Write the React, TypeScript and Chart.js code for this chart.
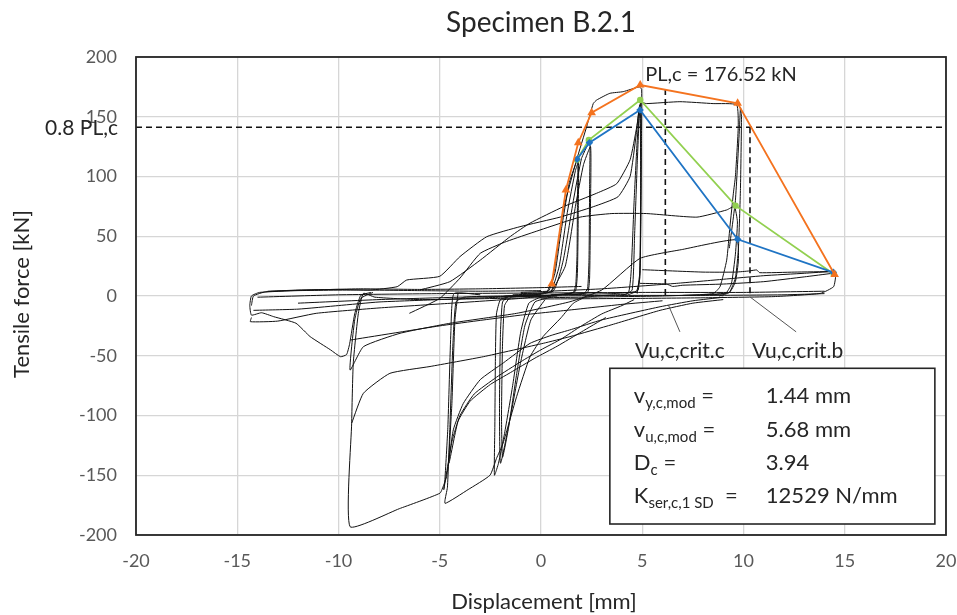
import React, { useEffect, useRef } from 'react';
import { Chart, registerables } from 'chart.js';

Chart.register(...registerables);

type P = [number, number];

// ---- axes ----
const xRange: P = [-20, 20];
const yRange: P = [-200, 200];
const xStep = 5;
const yStep = 50;

// ---- envelope curves ----
const envelopeOrange: P[] = [[0.53, 10], [1.23, 88.7], [1.84, 128.3], [2.5, 153.4], [4.9, 176.52], [9.71, 161.3], [14.5, 18]];
const envelopeGreen: P[] = [[1.78, 114], [2.36, 130.5], [4.9, 164], [9.61, 75.6], [14.45, 18.5]];
const envelopeBlue: P[] = [[1.78, 114.4], [2.39, 128.3], [4.89, 155.6], [9.71, 47.4], [14.43, 19.8]];

// ---- reference lines ----
const limitLine: P[] = [[-20, 141.2], [20, 141.2]];
const critCLine: P[] = [[6.14, 173.2], [6.14, -1]];
const critBLine: P[] = [[10.32, 141.2], [10.32, -1]];
const leaderC: P[] = [[6.29, -7.5], [6.86, -30]];
const leaderB: P[] = [[10.3, -0.5], [12.6, -30]];

// ---- hysteresis traces ----
const hysA: P[] = [[0.3, 3], [0.6, 16], [1.1, 72], [1.76, 114], [2.26, 142], [2.58, 161], [2.75, 164], [3.4, 169.6], [4.06, 171], [4.85, 175], [4.97, 173], [4.96, 130], [4.93, 60], [4.88, 15], [4.7, 4], [3.5, 2], [1, 1], [-2, 0], [-3.8, -1], [-4.2, -5], [-4.35, -40], [-4.5, -110], [-4.62, -160], [-4.74, -173.5], [-3.6, -162], [-2.52, -150], [-2.2, -136], [-1.87, -123], [-1.2, -84], [-0.54, -50.8], [0.1, -34], [1.0, -18], [1.6, -6], [2.2, -1], [3.5, 1]];
const hysB: P[] = [[-14.3, -8], [-14.2, 0], [-13.6, 3.5], [-12, 5], [-10, 5.5], [-8.44, 5], [-7.1, 7.8], [-6.63, 13.4], [-5, 16.5], [-4, 33], [-2.68, 49.6], [-1.04, 58], [0.94, 66], [2.58, 74.7], [3.8, 83], [4.4, 100], [4.7, 135], [4.85, 158], [4.95, 162], [5.2, 161], [6.86, 162.6], [8.5, 161], [9.66, 160], [9.74, 141.7], [9.6, 100], [9.5, 86], [9.33, 58], [9.17, 30], [8.84, 7.8], [8.5, 2], [6, 0], [2, -1], [-2, -2], [-6, -3], [-8.2, -1], [-8.77, 2.2], [-9.02, -14.5], [-9.27, -56], [-9.35, -106.5], [-9.43, -193], [-7, -178], [-4.99, -165], [-4.8, -158], [-4.66, -151], [-4.33, -112], [-3.84, -90], [-3.0, -70], [-1.86, -56], [-0.54, -39.6], [0.5, -33], [1.5, -28], [3, -20], [5.88, -9], [7.5, -4], [9, -1]];
const hysC: P[] = [[-6.5, -14.5], [-5, -2], [-4, 15], [-3, 35.7], [-1.8, 45], [-0.54, 52.4], [1.93, 66], [3.5, 69], [5.2, 69], [7.7, 66], [9.17, 72], [9.55, 75], [9.7, 62], [9.6, 35], [9.4, 10], [9.1, 2], [7, 0.5]];
const hysC2: P[] = [[-6, 5], [-4.5, 12], [-3, 30], [-1.5, 50], [-0.54, 61], [1.1, 74.7], [2.75, 86], [3.74, 94], [4.4, 114], [4.73, 141.7], [4.84, 155], [4.9, 160]];
const hysD: P[] = [[-8.3, 3], [-8.9, -2], [-9.2, -20], [-9.43, -62], [-8.77, -42.4], [-6.96, -31.2], [-4.49, -22.8], [-1.2, -14.5], [1.43, -4.8], [3, 5], [4.89, 31.5], [7, 39], [9.66, 47], [9.75, 30], [9.6, 12], [9.3, 3], [8, 1]];
const hysE: P[] = [[-9.35, -106.5], [-8.77, -81.4], [-7.46, -64.7], [-5.48, -59], [-2.85, -50.8], [0.11, -39.6], [1.43, -34], [3.5, -24], [5.88, -12], [7.5, -6], [9, -3]];
const hysF: P[] = [[-9.4, -36.8], [-5, -25], [-1, -16], [1.43, -11.7], [4, -7], [6, -4]];
const hysG: P[] = [[-8.4, 3], [-8.9, 0.5], [-9.2, -15], [-9.45, -40], [-9.6, -49], [-9.9, -50.8], [-10.4, -45], [-11.4, -34], [-12.1, -22.8], [-13.2, -17.3], [-13.8, -14], [-14.3, -16], [-14.38, -8], [-14.3, 0], [-13.9, 3], [-12, 4.5], [-9, 5], [-6, 4.5], [-3, 4], [0, 4.5]];
const hysH: P[] = [[-14.3, -18], [-14.35, -21.5], [-13, -21], [-11.1, -14.5], [-8, -10], [-4.49, -6.1], [-1, -2], [1.43, 2.3], [3, 3]];
const hysI: P[] = [[-14.2, -12], [-12, -11], [-10, -8], [-8, -5], [-5, -3], [-2, -1], [0, 0]];
const hysJ: P[] = [[-3, 1], [-4.3, 2], [-4.45, -30], [-4.6, -110], [-4.75, -155], [-4.8, -162], [-4.4, -122], [-4.0, -100], [-3.3, -82], [-2.2, -68], [-1, -55], [0, -45], [1, -36], [2, -25], [3, -15], [4, -8], [4.6, -3]];
const hysK: P[] = [[-4.1, 2], [-4.25, -20], [-4.4, -90], [-4.55, -140], [-4.1, -105], [-3.5, -88], [-2.5, -74], [-1.5, -64], [-0.3, -52], [0.8, -42], [2, -30], [3.2, -18]];
const hysL: P[] = [[3.5, 1], [4.3, 2], [4.45, 20], [4.6, 80], [4.75, 130], [4.88, 158], [4.92, 162], [4.94, 110], [4.9, 30], [4.8, 5], [4.3, 1]];
const hysM: P[] = [[4.0, 0], [4.5, 5], [4.62, 50], [4.75, 110], [4.85, 150], [4.9, 157], [4.92, 90], [4.88, 20], [4.75, 2]];
const hysN: P[] = [[9.3, 40], [9.6, 80], [9.8, 140], [9.85, 158], [9.9, 150], [9.85, 90], [9.75, 40], [9.6, 15], [9.3, 3], [8.8, 0]];
const cycP1: P[] = [[-1.4, 1], [0, 2], [0.4, 5], [0.7, 20], [1.0, 55], [1.4, 95], [1.7, 110], [1.82, 115], [1.8, 80], [1.78, 35], [1.72, 10], [1.6, 3], [1.0, 1], [0, 0]];
const cycP2: P[] = [[-1.8, 0], [0, 1.5], [0.5, 4], [0.9, 25], [1.3, 70], [1.7, 105], [1.85, 112], [1.84, 70], [1.8, 20], [1.7, 4], [1.2, 1]];
const cycP3: P[] = [[-1.0, 2], [0.6, 4], [1.1, 30], [1.6, 80], [2.0, 115], [2.35, 128], [2.42, 130], [2.4, 90], [2.37, 30], [2.3, 6], [2.1, 2], [0.5, 1]];
const cycP4: P[] = [[0.5, 3], [1.2, 25], [1.7, 75], [2.1, 110], [2.45, 125], [2.44, 70], [2.4, 15], [2.3, 3], [1.5, 1]];
const cycN1: P[] = [[0.8, 0], [0, -1], [-0.6, -6], [-1.0, -30], [-1.4, -75], [-1.8, -115], [-2.1, -140], [-2.3, -150], [-2.28, -110], [-2.25, -50], [-2.2, -15], [-2.0, -3], [-1.4, 0], [0, 1]];
const cycN2: P[] = [[0.5, -1], [-0.3, -5], [-0.8, -25], [-1.2, -65], [-1.6, -110], [-1.9, -135], [-1.95, -100], [-1.9, -40], [-1.8, -8], [-1.5, -1], [0, 0]];
const cycN3: P[] = [[0.2, -3], [-0.5, -20], [-1.0, -55], [-1.5, -100], [-2.0, -140], [-2.05, -90], [-2.0, -30], [-1.9, -5], [-1.6, 0]];
const lobeR1: P[] = [[-1, 3], [3, 6], [6.7, 10.6], [9, 14], [11, 17], [13, 19], [14.4, 20.3], [14.55, 17.6], [14.45, 7.8], [13.8, 2.2], [11.5, -0.5], [8, -1.5], [4.9, -2], [0, -2.5]];
const lobeR2: P[] = [[5, 22], [8, 20], [9.6, 20], [10.3, 21], [10.65, 21.8], [10.8, 19.5], [12.5, 20], [14.4, 20.5]];
const lobeR3: P[] = [[4.89, 10.6], [6.2, 10], [6.5, 8], [7, 9], [9, 10], [11, 12], [13, 16], [14.4, 19]];
const bandZ1: P[] = [[-14, -1], [-10, 1], [-5, 2], [0, 2.5], [5, 3], [10, 3], [14, 4]];
const bandZ2: P[] = [[-12, -6], [-8, -3], [-4, -1], [0, 0], [4, 0.5], [8, 0.5], [12, 1], [14, 2]];
const bandZ3: P[] = [[-13.5, 4], [-9, 6], [-6, 5.5], [-3, 6], [0, 7], [2, 8]];

const hysteresis: P[][] = [hysA, hysB, hysC, hysC2, hysD, hysE, hysF, hysG, hysH, hysI, hysJ, hysK, hysL, hysM, hysN, cycP1, cycP2, cycP3, cycP4, cycN1, cycN2, cycN3, lobeR1, lobeR2, lobeR3, bandZ1, bandZ2, bandZ3];

// ---- texts ----
const titleText = 'Specimen B.2.1';
const xTitle = 'Displacement [mm]';
const yTitle = 'Tensile force [kN]';
const peakLabel = 'PL,c = 176.52 kN';
const limitLabel = '0.8 PL,c';
const critCLabel = 'Vu,c,crit.c';
const critBLabel = 'Vu,c,crit.b';
const boxRows: { main: string; sub: string; tail: string; value: string }[] = [
  { main: 'v', sub: 'y,c,mod', tail: ' =', value: '1.44 mm' },
  { main: 'v', sub: 'u,c,mod', tail: ' =', value: '5.68 mm' },
  { main: 'D', sub: 'c', tail: ' =', value: '3.94' },
  { main: 'K', sub: 'ser,c,1 SD', tail: '  =', value: '12529 N/mm' },
];

const FONT = 'Lato, "Open Sans", sans-serif';
const ORANGE = '#F4731F';
const GREEN = '#92D050';
const BLUE = '#1F74C4';
const TEXT = '#262626';
const TICK = '#595959';

const toXY = (a: P[]) => a.map(([x, y]) => ({ x, y }));

export default function App() {
  const ref = useRef<HTMLCanvasElement | null>(null);
  useEffect(() => {
    document.body.style.margin = '0';
    const canvas = ref.current!;
    const textPlugin = {
      id: 'texts',
      afterDraw(chart: any) {
        const ctx = chart.ctx as CanvasRenderingContext2D;
        const area = chart.chartArea;
        const sx = chart.scales.x;
        const sy = chart.scales.y;
        ctx.save();
        // plot border
        ctx.strokeStyle = TEXT;
        ctx.lineWidth = 1.8;
        ctx.strokeRect(area.left, area.top, area.right - area.left, area.bottom - area.top);

        ctx.fillStyle = TEXT;
        ctx.textBaseline = 'middle';
        // title
        ctx.font = `28px ${FONT}`;
        ctx.textAlign = 'center';
        ctx.fillText(titleText, 541, 23);
        // axis titles
        ctx.font = `22px ${FONT}`;
        ctx.fillText(xTitle, 544, 602);
        ctx.save();
        ctx.translate(22, 294);
        ctx.rotate(-Math.PI / 2);
        ctx.fillText(yTitle, 0, 0);
        ctx.restore();

        // annotations
        ctx.font = `20px ${FONT}`;
        ctx.textAlign = 'left';
        ctx.fillText(peakLabel, sx.getPixelForValue(5.15), sy.getPixelForValue(185));
        ctx.textAlign = 'right';
        ctx.font = `21px ${FONT}`;
        ctx.fillText(limitLabel, 118, 128);
        ctx.textAlign = 'center';
        ctx.fillText(critCLabel, sx.getPixelForValue(6.86), sy.getPixelForValue(-46));
        ctx.fillText(critBLabel, sx.getPixelForValue(12.67), sy.getPixelForValue(-46));

        // text box
        const bx = sx.getPixelForValue(3.4);
        const by = sy.getPixelForValue(-60.5);
        const bw = sx.getPixelForValue(19.45) - bx;
        const bh = sy.getPixelForValue(-190.8) - by;
        ctx.fillStyle = '#ffffff';
        ctx.fillRect(bx, by, bw, bh);
        ctx.strokeStyle = TEXT;
        ctx.lineWidth = 1.6;
        ctx.strokeRect(bx, by, bw, bh);
        ctx.fillStyle = TEXT;
        ctx.textAlign = 'left';
        ctx.textBaseline = 'alphabetic';
        boxRows.forEach((r, i) => {
          const baseY = by + 35 + i * 33.4;
          let x = bx + 24;
          ctx.font = `22px ${FONT}`;
          ctx.fillText(r.main, x, baseY);
          x += ctx.measureText(r.main).width;
          ctx.font = `15px ${FONT}`;
          ctx.fillText(r.sub, x, baseY + 5);
          x += ctx.measureText(r.sub).width;
          ctx.font = `22px ${FONT}`;
          ctx.fillText(r.tail, x, baseY);
          ctx.fillText(r.value, bx + 156, baseY);
        });
        ctx.restore();
      },
    };

    const black = hysteresis.map((d) => ({
      data: toXY(d),
      showLine: true,
      borderColor: '#111111',
      borderWidth: 1,
      pointRadius: 0,
      tension: 0.15,
      order: 3,
    }));
    const dashed = [limitLine, critCLine, critBLine].map((d) => ({
      data: toXY(d),
      showLine: true,
      borderColor: '#111111',
      borderWidth: 1.6,
      borderDash: [6, 4],
      pointRadius: 0,
      order: 2,
    }));
    const leaders = [leaderC, leaderB].map((d) => ({
      data: toXY(d),
      showLine: true,
      borderColor: '#555555',
      borderWidth: 1,
      pointRadius: 0,
      order: 2,
    }));
    const env = [
      { d: envelopeGreen, c: GREEN, s: 'circle', r: 3.2 },
      { d: envelopeBlue, c: BLUE, s: 'rectRot', r: 3.8 },
      { d: envelopeOrange, c: ORANGE, s: 'triangle', r: 5 },
    ].map((e, i) => ({
      data: toXY(e.d),
      showLine: true,
      borderColor: e.c,
      backgroundColor: e.c,
      borderWidth: 1.8,
      pointRadius: e.r,
      pointStyle: e.s,
      pointBorderWidth: 0,
      order: 1 - i * 0.1,
    }));

    const chart = new Chart(canvas, {
      type: 'scatter',
      data: { datasets: [...env, ...dashed, ...leaders, ...black] as any },
      options: {
        animation: false,
        responsive: false,
        devicePixelRatio: 1,
        layout: { padding: { top: 57, right: 11, left: 0, bottom: 0 } },
        plugins: { legend: { display: false }, tooltip: { enabled: false }, title: { display: false } },
        scales: {
          x: {
            type: 'linear',
            min: xRange[0],
            max: xRange[1],
            ticks: { stepSize: xStep, padding: 15, color: TICK, font: { family: FONT, size: 18 }, maxRotation: 0 },
            grid: { color: '#d6d6d6', lineWidth: 1.3, drawTicks: false },
            border: { display: false },
            afterFit: (s: any) => { s.height = 80; s.paddingLeft = 0; s.paddingRight = 0; },
          },
          y: {
            type: 'linear',
            min: yRange[0],
            max: yRange[1],
            ticks: { stepSize: yStep, padding: 19, color: TICK, font: { family: FONT, size: 18 } },
            grid: { color: '#d6d6d6', lineWidth: 1.3, drawTicks: false },
            border: { display: false },
            afterFit: (s: any) => { s.width = 136; s.paddingTop = 0; s.paddingBottom = 0; },
          },
        },
      },
      plugins: [textPlugin],
    });
    return () => chart.destroy();
  }, []);

  return (
    <div style={{ width: 957, height: 615, background: '#fff' }}>
      <canvas ref={ref} width={957} height={615} style={{ display: 'block' }} />
    </div>
  );
}
